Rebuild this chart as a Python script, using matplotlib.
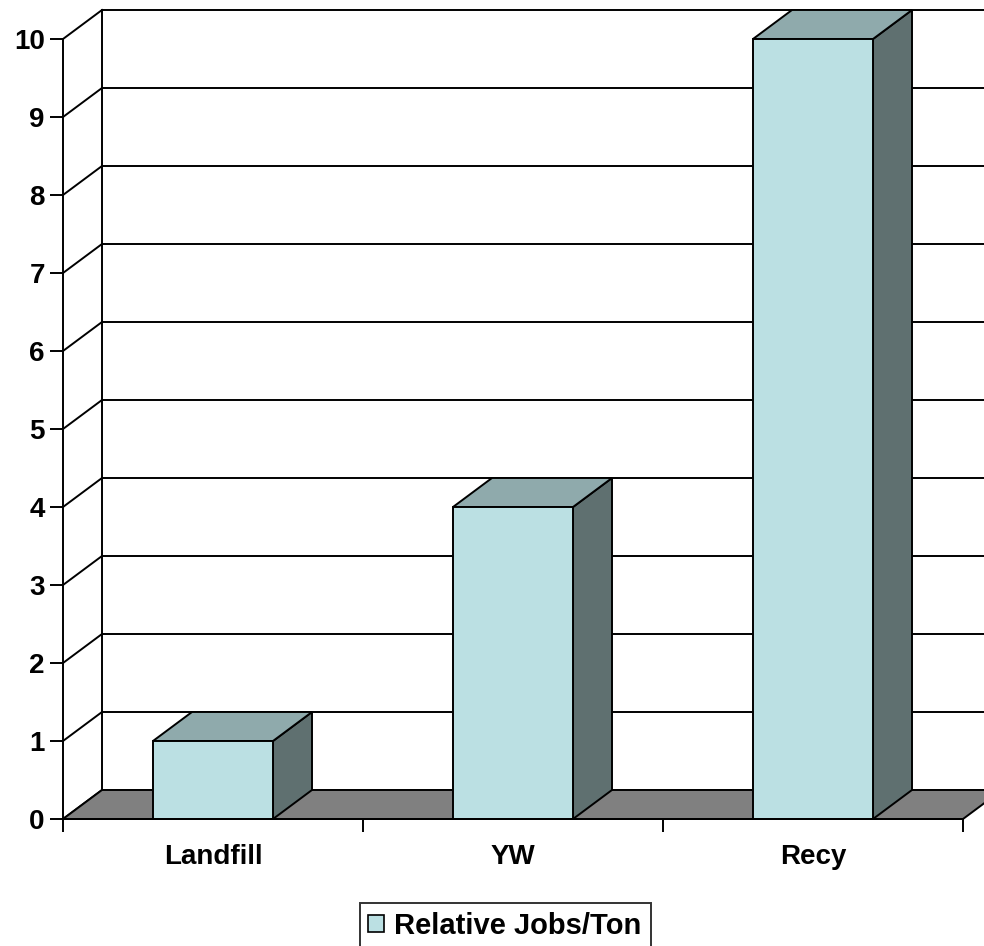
import matplotlib.pyplot as plt
from matplotlib.patches import Polygon, Patch

plt.rcParams['font.family'] = ['Liberation Sans', 'DejaVu Sans']

# Chart data
categories = ["Landfill", "YW", "Recy"]
jobs_per_ton = [1, 4, 10]
series_name = "Relative Jobs/Ton"
y_ticks = list(range(0, 11))

# 3D look
front_color = "#BBE0E3"
top_color = "#8FAAAC"
side_color = "#5F7070"
floor_color = "#808080"
depth_x = 0.13    # in category units
depth_y = 0.372   # in value units
bar_width = 0.4
lw = 1.4


def draw_bar(ax, center, value):
    """Draw one pseudo-3D bar: front (via ax.bar), top and side faces."""
    x0 = center - bar_width / 2
    x1 = center + bar_width / 2
    side = Polygon([(x1, 0), (x1 + depth_x, depth_y),
                    (x1 + depth_x, value + depth_y), (x1, value)],
                   closed=True, facecolor=side_color, edgecolor="black",
                   linewidth=lw, zorder=4, clip_on=False)
    top = Polygon([(x0, value), (x1, value),
                   (x1 + depth_x, value + depth_y), (x0 + depth_x, value + depth_y)],
                  closed=True, facecolor=top_color, edgecolor="black",
                  linewidth=lw, zorder=4, clip_on=False)
    ax.add_patch(side)
    ax.add_patch(top)
    ax.bar(center, value, width=bar_width, color=front_color,
           edgecolor="black", linewidth=lw, zorder=5, clip_on=False)


def main():
    fig = plt.figure(figsize=(9.84, 9.46), dpi=100)
    ax = fig.add_axes([63 / 984, 127 / 946, 900 / 984, 780 / 946])
    n = len(categories)
    ymax = y_ticks[-1]
    ax.set_xlim(0, n)
    ax.set_ylim(0, ymax)

    # floor
    floor = Polygon([(0, 0), (n, 0), (n + depth_x, depth_y), (depth_x, depth_y)],
                    closed=True, facecolor=floor_color, edgecolor="black",
                    linewidth=lw, zorder=2, clip_on=False)
    ax.add_patch(floor)

    # back wall gridlines and side wall lines
    for t in y_ticks:
        if t > 0:
            ax.plot([depth_x, n + depth_x], [t + depth_y, t + depth_y],
                    color="black", linewidth=lw, zorder=1, clip_on=False)
        ax.plot([0, depth_x], [t, t + depth_y], color="black",
                linewidth=lw, zorder=1, clip_on=False)
    ax.plot([depth_x, depth_x], [depth_y, ymax + depth_y], color="black",
            linewidth=lw, zorder=1, clip_on=False)

    for i, v in enumerate(jobs_per_ton):
        draw_bar(ax, i + 0.5, v)

    # axes styling
    for s in ["top", "right"]:
        ax.spines[s].set_visible(False)
    for s in ["left", "bottom"]:
        ax.spines[s].set_linewidth(lw)
        ax.spines[s].set_zorder(6)
    ax.set_yticks(y_ticks)
    ax.set_yticklabels([str(t) for t in y_ticks], fontsize=20, fontweight="bold")
    ax.tick_params(axis="y", direction="out", length=9.5, width=lw, pad=3.6)

    ax.set_xticks(range(n + 1))
    ax.set_xticklabels([])
    ax.set_xticks([i + 0.5 for i in range(n)], minor=True)
    ax.set_xticklabels(categories, minor=True, fontsize=20, fontweight="bold")
    ax.tick_params(axis="x", which="major", direction="out", length=9.5, width=lw)
    ax.tick_params(axis="x", which="minor", length=0, pad=18)
    ax.patch.set_visible(False)

    handle = Patch(facecolor=front_color, edgecolor="black", linewidth=1.2)
    leg = fig.legend([handle], [series_name], loc="upper center",
                     bbox_to_anchor=(505 / 984, 1 - 903 / 946),
                     prop={"size": 21, "weight": "bold"},
                     frameon=True, fancybox=False, shadow=False,
                     handlelength=0.55, handleheight=0.55,
                     handletextpad=0.35, borderpad=0.3, borderaxespad=0)
    leg.get_frame().set_edgecolor("black")
    leg.get_frame().set_linewidth(lw)

    fig.savefig("out.png", dpi=100)


if __name__ == "__main__":
    main()
